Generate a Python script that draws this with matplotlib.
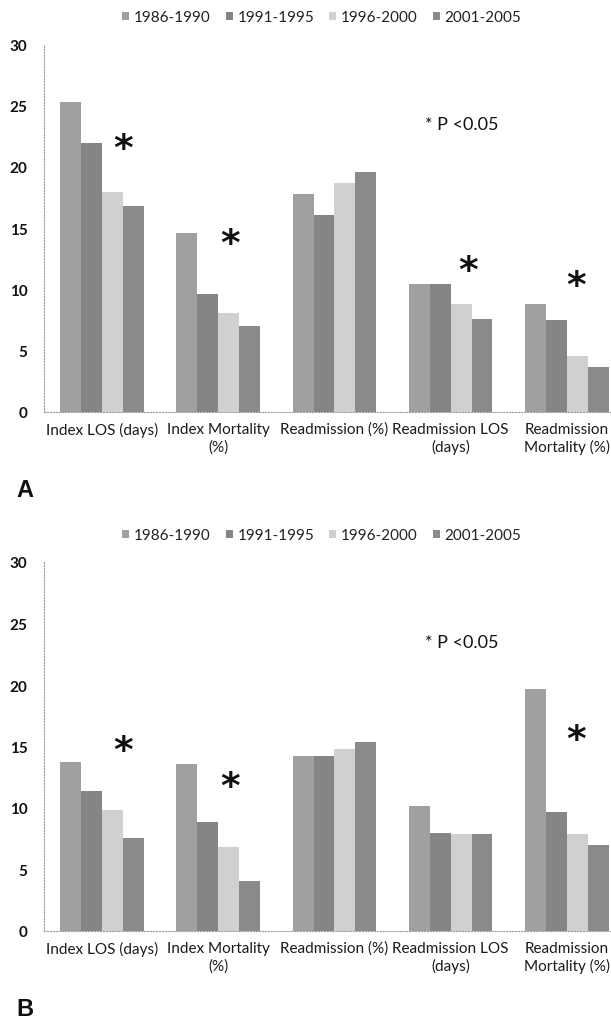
import matplotlib.pyplot as plt
plt.switch_backend('agg')
import numpy as np

plt.rcParams['font.family'] = ['Lato', 'DejaVu Sans']

categories = ["Index LOS (days)", "Index Mortality\n(%)", "Readmission (%)",
              "Readmission LOS\n(days)", "Readmission\nMortality (%)"]
periods = ["1986-1990", "1991-1995", "1996-2000", "2001-2005"]

# panel A values, one list per period
a_1986 = [25.3, 14.6, 17.8, 10.4, 8.8]
a_1991 = [21.9, 9.6, 16.1, 10.4, 7.5]
a_1996 = [17.9, 8.1, 18.7, 8.8, 4.6]
a_2001 = [16.8, 7.0, 19.6, 7.6, 3.7]

# panel B values
b_1986 = [13.7, 13.6, 14.2, 10.2, 19.7]
b_1991 = [11.4, 8.9, 14.2, 8.0, 9.7]
b_1996 = [9.8, 6.8, 14.8, 7.9, 7.9]
b_2001 = [7.6, 4.1, 15.4, 7.9, 7.0]

# significance stars: (category index, height)
a_stars = [(0, 22.2), (1, 14.5), (3, 12.3), (4, 11.1)]
b_stars = [(0, 15.4), (1, 12.5), (4, 16.3)]
star_dx = {0: 0.18, 1: 0.10, 3: 0.15, 4: 0.08}

colors = ['#a0a0a0', '#858585', '#d0d0d0', '#8a8a8a']


def draw_panel(ax, series, stars, letter):
    x = np.arange(len(categories))
    w = 0.18
    offs = [-1.5 * w, -0.5 * w, 0.5 * w, 1.5 * w]
    for vals, off, c, lab in zip(series, offs, colors, periods):
        ax.bar(x + off, vals, width=w, color=c, label=lab, zorder=2)

    ax.set_xlim(-0.5, 4.38)
    ax.set_ylim(0, 30)
    ax.set_yticks([0, 5, 10, 15, 20, 25, 30])
    ax.set_xticks(x)
    ax.set_xticklabels(categories, fontsize=11, color='#1a1a1a', linespacing=1.3)
    ax.tick_params(axis='both', length=0)
    ax.tick_params(axis='y', pad=12, labelsize=11, labelcolor='#111111')
    ax.tick_params(axis='x', pad=7)
    for t in ax.get_yticklabels():
        t.set_fontweight('bold')

    for s in ['top', 'right']:
        ax.spines[s].set_visible(False)
    for s in ['left', 'bottom']:
        ax.spines[s].set_linestyle(':')
        ax.spines[s].set_color('#9a9a9a')
        ax.spines[s].set_linewidth(0.8)

    for i, h in stars:
        ax.annotate('*', (i + star_dx[i], h), xytext=(0, -7),
                    textcoords='offset points', fontsize=27, ha='center',
                    va='center', family='DejaVu Sans', fontweight='bold',
                    color='#111111')
    ax.text(2.78, 23.5, '* P <0.05', fontsize=13, ha='left', va='center',
            color='#111111')

    ax.legend(loc='center', bbox_to_anchor=(0.49, 1.073), ncol=4, frameon=False,
              fontsize=11, handlelength=0.45, handleheight=0.45, handletextpad=0.3,
              columnspacing=1.0, labelcolor='#222222')

    ax.text(-0.048, -0.21, letter, transform=ax.transAxes, fontsize=17,
            family='Liberation Sans', fontweight='bold', ha='left', va='center',
            color='#111111')


fig = plt.figure(figsize=(6.11, 10.20), dpi=100)
ax_a = fig.add_axes([44 / 611, 1 - 413 / 1020, 567 / 611, 368 / 1020])
ax_b = fig.add_axes([44 / 611, 1 - 932 / 1020, 567 / 611, 369 / 1020])

draw_panel(ax_a, [a_1986, a_1991, a_1996, a_2001], a_stars, 'A')
draw_panel(ax_b, [b_1986, b_1991, b_1996, b_2001], b_stars, 'B')

fig.savefig('out.png', dpi=100, facecolor='white')
